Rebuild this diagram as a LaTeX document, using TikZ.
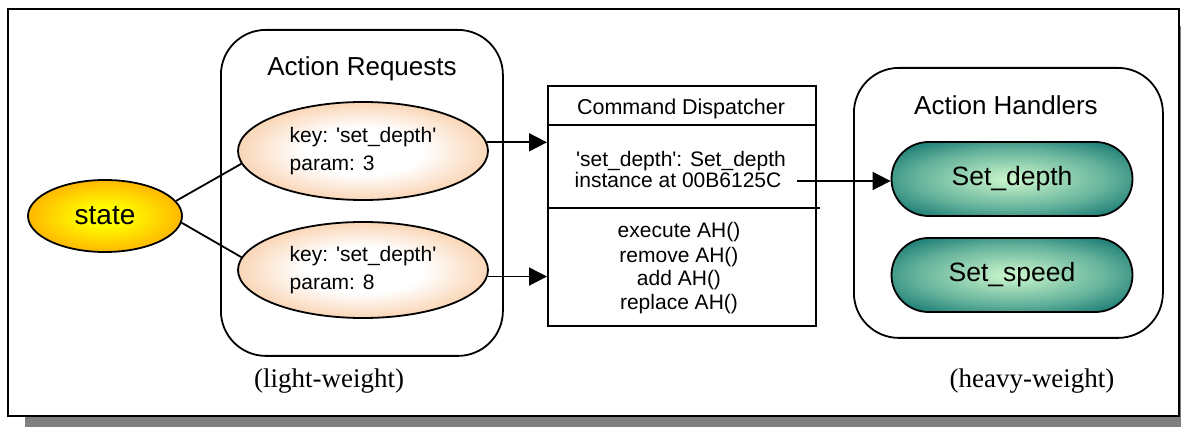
\documentclass[tikz,border=0pt]{standalone}
\usepackage{fontspec}
\setmainfont{Liberation Serif}
\setsansfont{Liberation Sans}
\usetikzlibrary{shapes.geometric,arrows.meta,calc}
\definecolor{stY}{RGB}{255,255,0}
\definecolor{stO}{RGB}{255,150,0}
\definecolor{rqW}{RGB}{255,255,255}
\definecolor{rqP}{RGB}{246,185,132}
\definecolor{hdL}{RGB}{205,248,205}
\definecolor{hdM}{RGB}{100,178,155}
\definecolor{hdT}{RGB}{10,112,108}
\definecolor{shd}{RGB}{128,128,128}
\pgfdeclareradialshading{stateshade}{\pgfpoint{0bp}{0bp}}{color(0bp)=(stY); color(6bp)=(stY); color(34bp)=(stO); color(50bp)=(stO)}
\pgfdeclareradialshading{reqshade}{\pgfpoint{0bp}{0bp}}{color(0bp)=(rqW); color(12bp)=(rqW); color(34bp)=(rqP); color(50bp)=(rqP)}
\pgfdeclareradialshading{hdshade}{\pgfpoint{0bp}{0bp}}{color(0bp)=(hdL); color(20bp)=(hdM); color(34bp)=(hdT); color(50bp)=(hdT)}
\newcommand\szTitle{\fontsize{26}{30}\selectfont}
\newcommand\szState{\fontsize{28}{30}\selectfont}
\newcommand\szHd{\fontsize{26.5}{30}\selectfont}
\newcommand\szReq{\fontsize{21}{28}\selectfont}
\newcommand\szCD{\fontsize{21.5}{24}\selectfont}
\newcommand\szMid{\fontsize{21}{24}\selectfont}
\newcommand\szNote{\fontsize{27}{30}\selectfont}
\newcommand\sq{\textquotesingle}
\begin{document}
\begin{tikzpicture}[x=1pt,y=-1pt,
  every node/.style={font=\sffamily},
  ln/.style={line width=1.8pt},
  bx/.style={draw, line width=1.8pt, rounded corners=45pt, inner sep=0pt},
  arr/.style={line width=1.8pt, -{Triangle[length=18pt,width=18pt]}},
  stnode/.style={ellipse, draw, line width=1.8pt, shade, shading=stateshade, inner sep=0pt, minimum width=154pt, minimum height=72pt, font=\sffamily\szState},
  rqnode/.style={ellipse, draw, line width=1.8pt, shade, shading=reqshade, inner sep=0pt, minimum width=250pt, minimum height=98pt, align=left, font=\sffamily\szReq},
  hdnode/.style={rectangle, rounded corners=37pt, draw, line width=1.8pt, shade, shading=hdshade, inner sep=0pt, minimum width=241pt, minimum height=74pt, font=\sffamily\szHd},
  note/.style={anchor=base, font=\rmfamily\szNote}]
\clip (0,0) rectangle (1181,427);
% frame with shadow
\fill[shd] (25,26) rectangle (1200,440);
\draw[line width=2.2pt, fill=white] (8,9) rectangle (1179,416);
% group boxes
\node[bx, minimum width=282pt, minimum height=326pt, anchor=north west] (reqbox) at (220,29) {};
\node[bx, minimum width=309pt, minimum height=270pt, anchor=north west] (hdbox) at (853,67) {};
\node[anchor=base, font=\sffamily\szTitle] (reqtitle) at (362,76) {Action Requests};
\node[anchor=base, font=\sffamily\szTitle] (hdtitle) at (1006,115) {Action Handlers};
% state and requests
\node[stnode] (st) at (105,216) {state};
\node[rqnode] (r1) at (363,151) {key: \sq set\_depth\sq\\param: 3};
\node[rqnode, minimum height=96pt] (r2) at (363,270) {key: \sq set\_depth\sq\\param: 8};
\draw[ln] (st.12) -- (r1.186);
\draw[ln] (st.-5) -- (r2.174);
% dispatcher
\node[draw, line width=1.8pt, minimum width=268pt, minimum height=240pt, anchor=north west, inner sep=0pt] (cd) at (547,85) {};
\coordinate (sep1) at (0,125);
\coordinate (sep2) at (0,208);
\draw[ln] (cd.west |- sep1) -- (cd.east |- sep1);
\draw[ln] (cd.west |- sep2) -- ($(cd.east |- sep2)+(3,0)$);
\node[anchor=base, font=\sffamily\szCD] (cdtitle) at (681,115) {Command Dispatcher};
\node[anchor=base, font=\sffamily\szMid] (map1) at (681,167) {\sq set\_depth\sq: Set\_depth};
\node[anchor=base, font=\sffamily\szMid] (map2) at (678,188) {instance at 00B6125C};
\node[anchor=base, font=\sffamily\szMid] (m1) at (679,238) {execute AH()};
\node[anchor=base, font=\sffamily\szMid] (m2) at (679,263) {remove AH()};
\node[anchor=base, font=\sffamily\szMid] (m3) at (679,286) {add AH()};
\node[anchor=base, font=\sffamily\szMid] (m4) at (679,310) {replace AH()};
% handlers
\node[hdnode] (hd1) at (1012,179) {Set\_depth};
\node[hdnode] (hd2) at (1012,275) {Set\_speed};
% arrows
\draw[arr] (r1.4) -- (r1.4 -| cd.west);
\draw[arr] (r2.-3) -- (r2.-3 -| cd.west);
\coordinate (src) at (797,181);
\draw[arr] (src) -- (src -| hd1.west);
% notes
\node[note] (lw) at (329,388) {(light-weight)};
\node[note] (hw) at (1032,388) {(heavy-weight)};
\end{tikzpicture}
\end{document}
